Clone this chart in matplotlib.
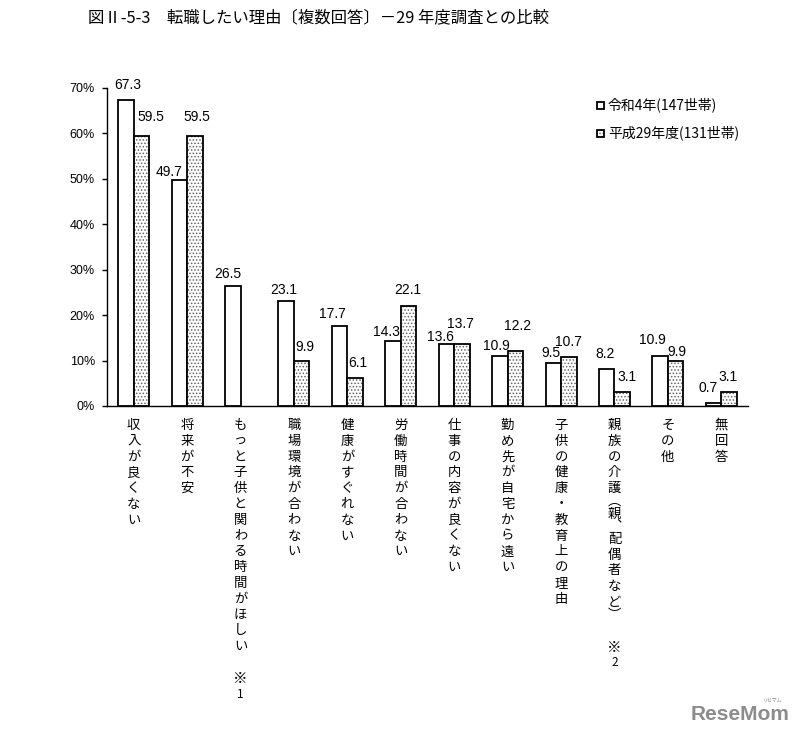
import numpy as np
import matplotlib
matplotlib.use("Agg")
import matplotlib.pyplot as plt
from matplotlib.patches import Rectangle

plt.rcParams['font.family'] = ['Noto Sans CJK JP', 'DejaVu Sans']
plt.rcParams['hatch.linewidth'] = 0.7

# データ
categories = ['収入が良くない', '将来が不安', 'もっと子供と関わる時間がほしい', '職場環境が合わない',
              '健康がすぐれない', '労働時間が合わない', '仕事の内容が良くない', '勤め先が自宅から遠い',
              '子供の健康・教育上の理由', '親族の介護︵親︑配偶者など︶', 'その他', '無回答']
notes = ['', '', '※1', '', '', '', '', '', '', '※2', '', '']
r4 = [67.3, 49.7, 26.5, 23.1, 17.7, 14.3, 13.6, 10.9, 9.5, 8.2, 10.9, 0.7]
h29 = [59.5, 59.5, np.nan, 9.9, 6.1, 22.1, 13.7, 12.2, 10.7, 3.1, 9.9, 3.1]
yticks = [0, 10, 20, 30, 40, 50, 60, 70]
legend_labels = ['令和4年(147世帯)', '平成29年度(131世帯)']
title = '図Ⅱ-5-3　転職したい理由〔複数回答〕－29 年度調査との比較'

# ラベル位置の微調整 (px)
r4_dx = [1.5, -10, -5, -2, -7, -7, -6, -4, -2, -2, -8, -5]
r4_dy = [15, 8, 12, 11, 12, 9, 7, 10, 10, 15, 16, 15]
h29_dx = [9, 2, 0, 3, 3, -1, -2, 2, 0, 5, 1.5, -1]
h29_dy = [19, 19, 0, 14, 15, 16, 20, 25, 15, 15, 9, 15]

W, H = 803, 735
fig = plt.figure(figsize=(W / 100, H / 100), dpi=100)
ax = fig.add_axes([107 / W, 1 - 406 / H, 641 / W, 318 / H])

x = np.arange(len(categories))
bw = 0.29
xw = x + 0.5 - bw / 2
xd = x + 0.5 + bw / 2
h29_arr = np.array(h29)
ok = ~np.isnan(h29_arr)

ax.bar(xw, r4, bw, color='white', edgecolor='black', linewidth=1.3, zorder=3)
ax.bar(xd[ok], h29_arr[ok], bw, color='white', edgecolor='#666666', hatch='.....', linewidth=0, zorder=3)
ax.bar(xd[ok], h29_arr[ok], bw, fill=False, edgecolor='black', linewidth=1.3, zorder=4)

ax.set_xlim(0, len(categories))
ax.set_ylim(0, 70)
ax.set_yticks(yticks)
ax.set_yticklabels([f'{t}%' for t in yticks], family=['Liberation Sans', 'DejaVu Sans'], fontsize=9)
ax.tick_params(axis='y', direction='out', length=3.6, width=1, pad=5)
ax.set_xticks([])
for s in ['top', 'right']:
    ax.spines[s].set_visible(False)
for s in ['left', 'bottom']:
    ax.spines[s].set_linewidth(1.0)

# 数値ラベル
num_font = ['Liberation Sans', 'DejaVu Sans']
for i in range(len(categories)):
    ax.annotate(f'{r4[i]}', (xw[i], r4[i]), xytext=(r4_dx[i] * 0.72, r4_dy[i] * 0.72),
                textcoords='offset points', ha='center', va='center', fontsize=10,
                family=num_font, annotation_clip=False)
    if ok[i]:
        ax.annotate(f'{h29[i]}', (xd[i], h29[i]), xytext=(h29_dx[i] * 0.72, h29_dy[i] * 0.72),
                    textcoords='offset points', ha='center', va='center', fontsize=10,
                    family=num_font, annotation_clip=False)

# 縦書きのカテゴリラベル
step = 15.8
half_chars = '︵︶︑'
for i, (lab, nt) in enumerate(zip(categories, notes)):
    pos = 19.0
    last = pos
    for ch in lab:
        adv = step * 0.6 if ch in half_chars else step
        c = pos + adv / 2 - step / 2
        ax.annotate(ch, (x[i] + 0.5, 0), xycoords=('data', 'axes fraction'),
                    xytext=(0, -c * 0.72), textcoords='offset points',
                    ha='center', va='center', fontsize=9.6, annotation_clip=False)
        last = c
        pos += adv
    if nt:
        c = last + step * 2.1
        ax.annotate(nt[0], (x[i] + 0.5, 0), xycoords=('data', 'axes fraction'),
                    xytext=(0, -c * 0.72), textcoords='offset points',
                    ha='center', va='center', fontsize=10.5, annotation_clip=False)
        ax.annotate(nt[1:], (x[i] + 0.5, 0), xycoords=('data', 'axes fraction'),
                    xytext=(0, -(c + 15) * 0.72), textcoords='offset points',
                    ha='center', va='center', fontsize=8.5, annotation_clip=False)

# 凡例
for k, (lab, ly) in enumerate(zip(legend_labels, [105, 133])):
    if k == 1:
        fig.patches.append(Rectangle(((597) / W, 1 - (ly + 3.5) / H), 7 / W, 7 / H,
                                     transform=fig.transFigure, facecolor='white',
                                     edgecolor='#666666', hatch='.....', linewidth=0))
    fig.patches.append(Rectangle(((597) / W, 1 - (ly + 3.5) / H), 7 / W, 7 / H,
                                 transform=fig.transFigure, fill=(k == 0), facecolor='white',
                                 edgecolor='black', linewidth=1.3))
    fig.text(608 / W, 1 - ly / H, lab, fontsize=10, ha='left', va='center')

# タイトル
fig.text(88 / W, 1 - 18 / H, title, fontsize=11.8, ha='left', va='center')

# ロゴ
fig.text(790 / W, 1 - 714 / H, 'ReseMom', fontsize=15, fontweight='bold', color='#8c8c8c',
         family=['Liberation Sans', 'DejaVu Sans'], ha='right', va='center')
fig.text(782 / W, 1 - 700 / H, 'リセマム', fontsize=3.5, color='#8c8c8c', ha='right', va='center')

fig.savefig('out.png', dpi=100)
